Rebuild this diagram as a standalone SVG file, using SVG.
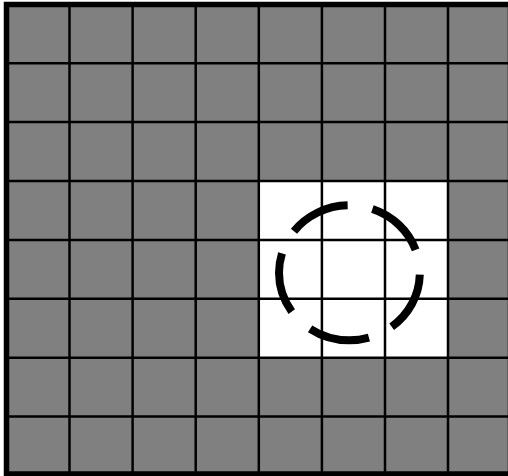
<svg xmlns="http://www.w3.org/2000/svg" width="508" height="476" viewBox="0 0 508 476">
  <style>
    .grid line { stroke: #000; stroke-width: 2.5; }
    .cell-gray { fill: #808080; }
    .cell-white { fill: #fff; }
  </style>
  <rect width="508" height="476" fill="#fff"/>
  <rect class="cell-gray" x="6.5" y="4.5" width="504" height="470"/>
  <rect class="cell-white" x="258.8" y="181" width="189.2" height="176.7"/>
  <g class="grid">
    <line x1="69.5" y1="4" x2="69.5" y2="475"/>
    <line x1="132.6" y1="4" x2="132.6" y2="475"/>
    <line x1="195.7" y1="4" x2="195.7" y2="475"/>
    <line x1="258.8" y1="4" x2="258.8" y2="475"/>
    <line x1="321.9" y1="4" x2="321.9" y2="475"/>
    <line x1="385" y1="4" x2="385" y2="475"/>
    <line x1="448" y1="4" x2="448" y2="475"/>
    <line x1="6" y1="63.2" x2="511" y2="63.2"/>
    <line x1="6" y1="122.1" x2="511" y2="122.1"/>
    <line x1="6" y1="181" x2="511" y2="181"/>
    <line x1="6" y1="239.9" x2="511" y2="239.9"/>
    <line x1="6" y1="298.8" x2="511" y2="298.8"/>
    <line x1="6" y1="357.7" x2="511" y2="357.7"/>
    <line x1="6" y1="416.6" x2="511" y2="416.6"/>
  </g>
  <rect x="6.5" y="4.5" width="504" height="469.5" fill="none" stroke="#000" stroke-width="5.5"/>
  <ellipse cx="349.4" cy="272.8" rx="70.4" ry="67.5" fill="none" stroke="#000" stroke-width="8" pathLength="360" stroke-dasharray="51 21" stroke-dashoffset="-1.5"/>
</svg>
